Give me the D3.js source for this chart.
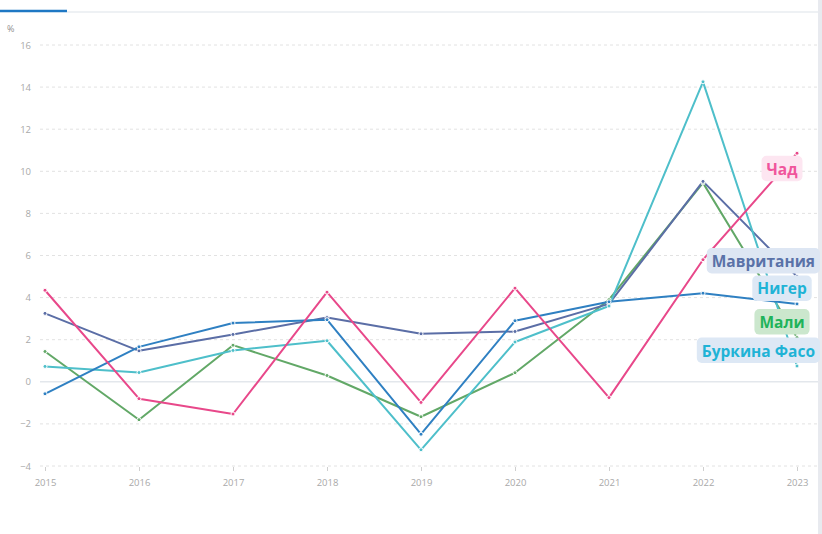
<!DOCTYPE html>
<html>
<head>
<meta charset="utf-8">
<script src="https://cdn.jsdelivr.net/npm/d3@7"></script>
<style>
  html, body { margin: 0; padding: 0; background: #fff; }
  svg { display: block; font-family: "Open Sans", sans-serif; }
</style>
</head>
<body>
<svg id="chart" width="822" height="534"></svg>
<script>
// Inflation, % (2015-2023)
const years = [2015, 2016, 2017, 2018, 2019, 2020, 2021, 2022, 2023];
const yTicks = [-4, -2, 0, 2, 4, 6, 8, 10, 12, 14, 16];

const chad       = [4.35, -0.8, -1.53, 4.26, -0.98, 4.45, -0.75, 5.8, 10.86];
const mauritania = [3.25, 1.47, 2.25, 3.05, 2.28, 2.39, 3.7, 9.52, 5.0];
const niger      = [-0.57, 1.66, 2.79, 2.95, -2.49, 2.9, 3.8, 4.21, 3.7];
const mali       = [1.44, -1.8, 1.74, 0.3, -1.66, 0.43, 3.9, 9.45, 2.1];
const burkina    = [0.73, 0.44, 1.49, 1.95, -3.23, 1.89, 3.6, 14.25, 0.75];

const series = [
  { name: 'Мали', values: mali, line: '#62a867', text: '#1fb35a', bg: '#cbe7cd' },
  { name: 'Мавритания', values: mauritania, line: '#5b6ea6', text: '#5a72a8', bg: '#dde6f3' },
  { name: 'Буркина Фасо', values: burkina, line: '#4ebfca', text: '#1fb3d6', bg: '#dde8f5' },
  { name: 'Нигер', values: niger, line: '#2f80c2', text: '#1fb3d6', bg: '#dde8f5' },
  { name: 'Чад', values: chad, line: '#e8488a', text: '#f0559c', bg: '#fde6f1' }
];

const svg = d3.select('#chart');
const height = 534;

const x = d3.scalePoint().domain(years).range([45, 797]);
const y = d3.scaleLinear().domain([-4, 16]).range([466, 45]);

// top tab strip
svg.append('line').attr('x1', 67).attr('x2', 818).attr('y1', 12).attr('y2', 12)
  .attr('stroke', '#e9edf0').attr('stroke-width', 1.5);
svg.append('line').attr('x1', 0).attr('x2', 67).attr('y1', 11).attr('y2', 11)
  .attr('stroke', '#1f78c4').attr('stroke-width', 2.5);
// right border
svg.append('rect').attr('x', 818).attr('y', 0).attr('width', 4).attr('height', height)
  .attr('fill', '#e8eaef');

// grid
const grid = svg.append('g');
yTicks.forEach(t => {
  grid.append('line')
    .attr('x1', 40).attr('x2', 818)
    .attr('y1', y(t)).attr('y2', y(t))
    .attr('stroke', t === 0 ? '#e3e7ec' : '#e2e2e2')
    .attr('stroke-width', t === 0 ? 1.5 : 1)
    .attr('stroke-dasharray', t === 0 ? null : '3,3');
});

// y axis
const yAxis = svg.append('g').attr('transform', 'translate(31,0)')
  .call(d3.axisLeft(y).tickValues(yTicks).tickSize(0).tickPadding(0));
yAxis.select('.domain').remove();
yAxis.selectAll('text').attr('fill', '#a9a9a9').attr('font-size', 9.5)
  .attr('font-family', '"Open Sans", sans-serif');

svg.append('text').attr('x', 7).attr('y', 32).text('%')
  .attr('fill', '#8f8f8f').attr('font-size', 9);

// x axis
const xAxis = svg.append('g').attr('transform', 'translate(0,467)')
  .call(d3.axisBottom(x).tickSize(4).tickPadding(8).tickFormat(d3.format('d')));
xAxis.select('.domain').remove();
xAxis.selectAll('line').attr('stroke', '#cfcfcf');
xAxis.selectAll('text').attr('fill', '#a9a9a9').attr('font-size', 9.5)
  .attr('font-family', '"Open Sans", sans-serif');

// lines
const line = d3.line().x((d, i) => x(years[i])).y(d => y(d));
const plot = svg.append('g');
series.forEach(s => {
  plot.append('path').datum(s.values)
    .attr('d', line)
    .attr('fill', 'none')
    .attr('stroke', s.line)
    .attr('stroke-width', 2)
    .attr('stroke-linejoin', 'round');
});
series.forEach(s => {
  plot.selectAll(null).data(s.values).enter().append('circle')
    .attr('cx', (d, i) => x(years[i]))
    .attr('cy', d => y(d))
    .attr('r', 2)
    .attr('fill', s.line)
    .attr('stroke', '#fff')
    .attr('stroke-width', 1);
});

// end labels
const labelDy = { 'Чад': 15 };
const labels = svg.append('g');
series.forEach(s => {
  const last = s.values[s.values.length - 1];
  const cy = y(last) + (labelDy[s.name] !== undefined ? labelDy[s.name] : -16);
  const g = labels.append('g');
  const t = g.append('text')
    .text(s.name)
    .attr('fill', s.text)
    .attr('font-size', 15.5)
    .attr('font-weight', 700)
    .attr('text-anchor', 'middle')
    .attr('dominant-baseline', 'central');
  const w = t.node().getComputedTextLength() + 10;
  let cx = 782;
  if (cx + w / 2 > 820) cx = 820 - w / 2;
  t.attr('x', cx).attr('y', cy + 0.5);
  g.insert('rect', 'text')
    .attr('x', cx - w / 2).attr('y', cy - 12.5)
    .attr('width', w).attr('height', 25.5)
    .attr('rx', 5)
    .attr('fill', s.bg);
});
</script>
</body>
</html>
